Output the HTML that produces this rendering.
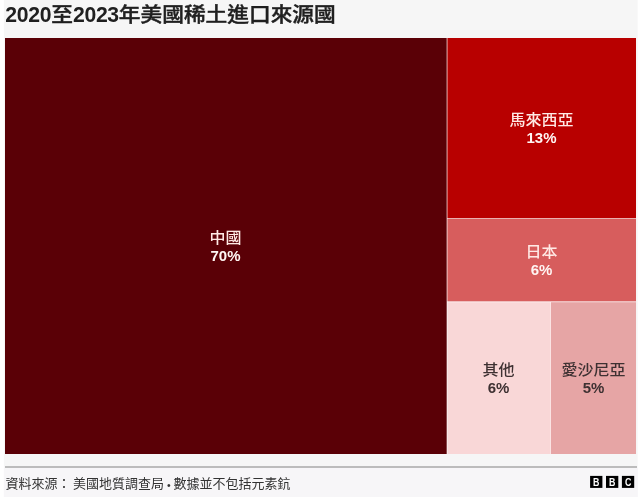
<!DOCTYPE html>
<html lang="zh-Hant">
<head>
<meta charset="utf-8">
<title>2020至2023年美國稀土進口來源國</title>
<style>
html,body{margin:0;padding:0;}
body{width:640px;height:497px;background:#ffffff;position:relative;overflow:hidden;
  font-family:"Liberation Sans","Noto Sans CJK TC",sans-serif;color:#222;}
.title{position:absolute;left:5.1px;top:1.4px;font-size:21.7px;line-height:28px;font-weight:500;-webkit-text-stroke:0.45px #202020;color:#202020;white-space:nowrap;margin:0;transform:scaleY(0.92);transform-origin:0 21.5px;}
.box{position:absolute;display:flex;flex-direction:column;align-items:center;justify-content:center;text-align:center;}
.box .n{font-size:16px;line-height:20px;font-weight:500;transform:translateY(1.3px) scaleY(0.92);}
.box .v{font-size:15px;line-height:19px;font-weight:bold;transform:translateY(-1px) scaleY(0.94);}
.w{color:#fff5f3;}
.w .n{color:#ffe9e5;}
.d{color:#3e3132;}
.rule{position:absolute;left:5px;top:466px;width:632px;height:2px;background:#bcbcbc;}
.src{position:absolute;left:5.5px;top:475px;font-size:13px;line-height:20px;color:#333;white-space:nowrap;word-spacing:-1.1px;transform:translateY(-0.6px);}
.src .b{font-size:10.5px;position:relative;top:0.6px;margin:0 0.4px;}
.bbc{position:absolute;left:586px;top:472px;}
.title .g{font-weight:bold;-webkit-text-stroke:0;display:inline-block;font-size:21.2px;letter-spacing:-0.3px;margin-left:0.1px;transform:scaleY(1.085);transform-origin:0 21.4px;}
.tm{position:absolute;left:0;top:0;}
</style>
</head>
<body>
<svg class="tm" width="640" height="497" viewBox="0 0 640 497">
  <rect x="3.9" y="0" width="633.7" height="497" fill="#f6f6f6"/>
  <rect x="3.9" y="468" width="633.7" height="29" fill="#f7f6f8"/>
  <rect x="446" y="38" width="190" height="416" fill="#ffffff"/>
  <rect x="5" y="38" width="441.7" height="416" fill="#5a0006"/>
  <rect x="447.4" y="38" width="188.6" height="180.2" fill="#b80000"/>
  <rect x="447.4" y="218.75" width="188.6" height="82.65" fill="#d75d5d"/>
  <rect x="447.4" y="302.2" width="103.3" height="151.8" fill="#f9d7d7"/>
  <rect x="551" y="302.2" width="85" height="151.8" fill="#e6a5a5"/>
</svg>
<h1 class="title"><span class="g">2020</span>至<span class="g">2023</span>年美國稀土進口來源國</h1>

<div class="box w" style="left:5px;top:38px;width:441px;height:416px;"><span class="n">中國</span><span class="v">70%</span></div>
<div class="box w" style="left:447px;top:38px;width:189px;height:180px;"><span class="n">馬來西亞</span><span class="v">13%</span></div>
<div class="box w" style="left:447px;top:219px;width:189px;height:82px;"><span class="n">日本</span><span class="v">6%</span></div>
<div class="box d" style="left:447px;top:302px;width:103px;height:152px;"><span class="n">其他</span><span class="v">6%</span></div>
<div class="box d" style="left:551px;top:302px;width:85px;height:152px;"><span class="n">愛沙尼亞</span><span class="v">5%</span></div>

<div class="rule"></div>
<div class="src">資料來源： 美國地質調查局 <span class="b">•</span> 數據並不包括元素鈧</div>
<svg class="bbc" width="54" height="22" viewBox="586 472 54 22">
  <rect x="590.1" y="475.9" width="12.3" height="12" fill="#000"/>
  <rect x="606" y="475.9" width="12.3" height="12" fill="#000"/>
  <rect x="621.9" y="475.9" width="12.3" height="12" fill="#000"/>
  <g font-family="Liberation Sans, sans-serif" font-weight="bold" font-size="10.4" fill="#fff" text-anchor="middle">
    <text transform="translate(596.3 485.6) scale(0.85 1)">B</text>
    <text transform="translate(612.2 485.6) scale(0.85 1)">B</text>
    <text transform="translate(628.1 485.6) scale(0.85 1)">C</text>
  </g>
</svg>
</body>
</html>
